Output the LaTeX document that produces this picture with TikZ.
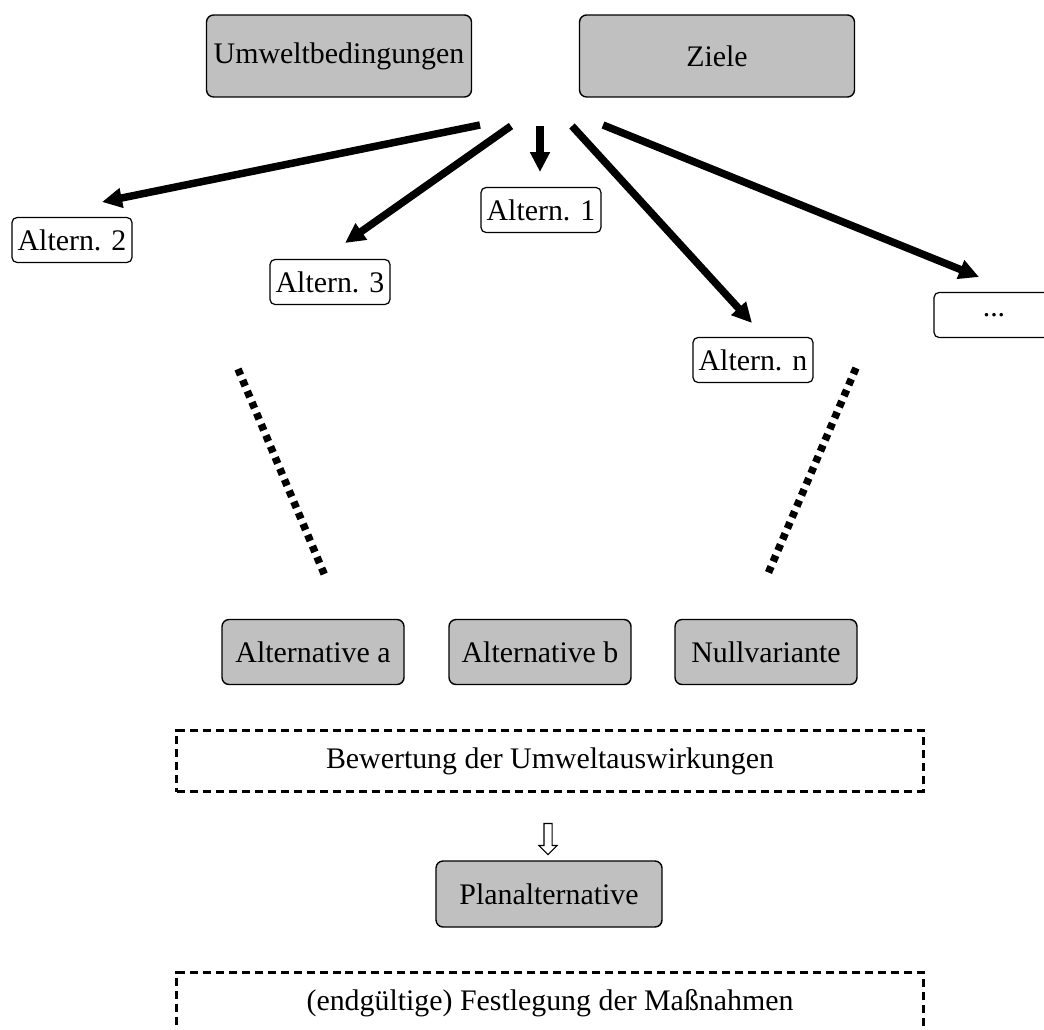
\documentclass[tikz,border=0pt]{standalone}
\usepackage{fontspec}
\setmainfont{Liberation Serif}
\usetikzlibrary{arrows.meta,shapes.arrows}
\definecolor{boxgray}{RGB}{192,192,192}

\begin{document}
\begin{tikzpicture}[
  x=0.02cm, y=-0.02cm,
  grey/.style={
    draw, line width=0.8pt, fill=boxgray, rounded corners=0.14cm,
    minimum height=1.3cm, inner sep=0pt,
    font=\fontsize{17}{20}\selectfont
  },
  alt/.style={
    draw, line width=0.7pt, fill=white, rounded corners=0.1cm,
    minimum width=2.4cm, minimum height=0.9cm, inner sep=0pt,
    font=\fontsize{17}{20}\selectfont
  },
  frame/.style={
    draw, line width=1.6pt, dash pattern=on 0.16cm off 0.1cm,
    minimum width=14.94cm, minimum height=1.22cm,
    font=\fontsize{17}{20}\selectfont
  },
  hollow/.style={
    single arrow, draw, line width=0.6pt, rotate=-90,
    minimum height=0.62cm, inner sep=0.07cm,
    single arrow head extend=0.1cm, single arrow tip angle=90
  },
  arr/.style={-{Triangle[length=0.4cm,width=0.38cm]}, line width=0.15cm},
  dots/.style={line width=0.15cm, dash pattern=on 0.13cm off 0.11cm},
]
\useasboundingbox (0,0) rectangle (1044,1030);

\node[grey, minimum width=5.3cm, minimum height=1.64cm] (umwelt) at (339,56) {Umweltbedingungen};
\node[grey, minimum width=5.5cm, minimum height=1.64cm] (ziele)  at (717,56) {Ziele};

\node[alt] (alt2)    at (72,240)  {Altern. 2};
\node[alt] (alt3)    at (330,282) {Altern. 3};
\node[alt] (alt1)    at (541,210) {Altern. 1};
\node[alt] (altn)    at (753,360) {Altern. n};
\node[alt] (weitere) at (994,315) {...};

\coordinate (s2) at (480,125);
\coordinate (s3) at (511,126);
\coordinate (s1) at (540,126);
\coordinate (sn) at (572,126);
\coordinate (sw) at (603,125);
\coordinate (t2) at (102,202);
\coordinate (t3) at (345,243);
\coordinate (t1) at (540,172);
\coordinate (tn) at (752,323);
\coordinate (tw) at (979,277);

\draw[arr] (s2) -- (t2);
\draw[arr] (s3) -- (t3);
\draw[arr] (s1) -- (t1);
\draw[arr] (sn) -- (tn);
\draw[arr] (sw) -- (tw);

\coordinate (la) at (238,369);
\coordinate (lb) at (325,576);
\coordinate (ra) at (856,368);
\coordinate (rb) at (767,576);
\draw[dots] (la) -- (lb);
\draw[dots] (ra) -- (rb);

\node[grey, minimum width=3.64cm] (alta)  at (313,652) {Alternative a};
\node[grey, minimum width=3.64cm] (altb)  at (540,652) {Alternative b};
\node[grey, minimum width=3.64cm] (nullv) at (766,652) {Nullvariante};

\node[frame] (bewertung) at (550,761) {Bewertung der Umweltauswirkungen};
\node[hollow] (pfeil) at (548,837) {};
\node[grey, minimum width=4.52cm, minimum height=1.32cm] (plan) at (549,894) {Planalternative};
\node[frame] (festlegung) at (550,1003) {(endgültige) Festlegung der Maßnahmen};

\end{tikzpicture}
\end{document}
